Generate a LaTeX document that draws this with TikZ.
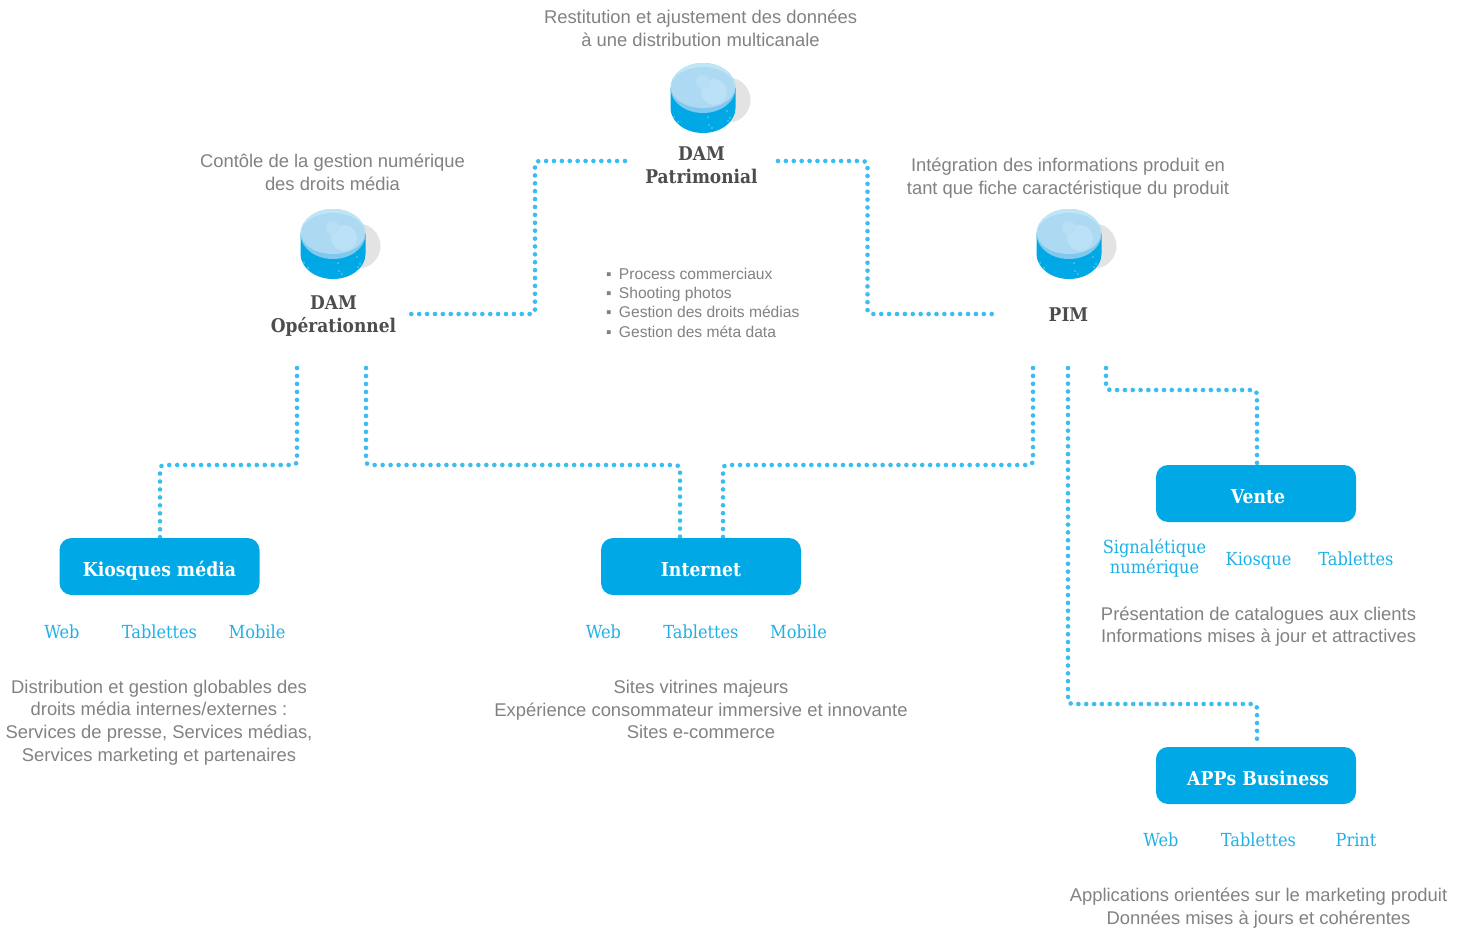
\documentclass[tikz,border=0pt]{standalone}
\usepackage{fontspec}
\usetikzlibrary{backgrounds}
\setmainfont{Liberation Sans}
\newfontfamily\slabfont{DejaVu Serif Condensed}
\definecolor{boxblue}{HTML}{00A9E6}
\definecolor{dotblue}{HTML}{3BBDEF}
\definecolor{labblue}{HTML}{20B0E8}
\definecolor{greytxt}{HTML}{828282}
\definecolor{darktxt}{HTML}{4D4D4D}
\definecolor{dbband}{HTML}{80C8EE}
\definecolor{dbrim}{HTML}{BFE6F6}
\definecolor{dbtop}{HTML}{AED9F2}
\definecolor{dbglow}{HTML}{BAE1F6}
\definecolor{dbglowb}{HTML}{B6DEF4}
\definecolor{dbshadow}{HTML}{E3E3E3}
\tikzset{
  every node/.style={inner sep=0pt,outer sep=0pt},
  dotline/.style={draw=dotblue,line width=4.6pt,line cap=round,dash pattern=on 0pt off #1,rounded corners=4pt},
  chanbox/.style={fill=boxblue,rounded corners=12pt,minimum width=200pt,minimum height=57pt,text height=20pt,text depth=0pt,text=white,font=\slabfont\bfseries\fontsize{19.2}{23}\selectfont},
  chanlab/.style={text=labblue,align=center,font=\slabfont\fontsize{18}{20}\selectfont},
  desc/.style={text=greytxt,align=center,font=\fontsize{18.4}{22.6}\selectfont},
  title/.style={text=darktxt,align=center,font=\slabfont\bfseries\fontsize{18.9}{23.5}\selectfont},
  pics/dbase/.style={code={
    \fill[dbshadow] (25,12) circle[radius=22.5];
    \fill[boxblue] (-32.5,0) -- (-32.5,20) arc[start angle=180,end angle=0,x radius=32.5,y radius=25] -- (32.5,0) -- cycle;
    \fill[dbband] (0,0) ellipse[x radius=32.5,y radius=25];
    \fill[dbrim] (-32.5,0) arc[start angle=180,end angle=360,x radius=32.5,y radius=25] -- cycle;
    \fill[dbtop] (0,-0.5) ellipse[x radius=32,y radius=20.5];
    \fill[dbglow] (11,4) circle[radius=13];
    \fill[dbglowb] (0,-6) circle[radius=7];
    \foreach \px/\py in {-25/34,-29/29,5/29,6/37,9/40,24/23,27/30,25/33}{
      \fill[white!45!boxblue] (\px,\py) circle[radius=0.8];}
  }}
}
\begin{document}
\begin{tikzpicture}[x=1pt,y=-1pt]
\useasboundingbox (0,0) rectangle (1467,928);

\pic at (703,88) {dbase};
\pic at (333,234) {dbase};
\pic at (1069,234) {dbase};

\node[desc] (ttop) at (700.5,28.5) {Restitution et ajustement des données\\à une distribution multicanale};
\node[desc] (tleft) at (332.5,172.5) {Contôle de la gestion numérique\\des droits média};
\node[desc] (tright) at (1068,178) {Intégration des informations produit en\\tant que fiche caractéristique du produit};

\node[title] (pat) at (701.5,165) {DAM\\Patrimonial};
\node[title] (ope) at (333.5,316) {DAM\\Opérationnel};
\node[title] (pim) at (1068.5,315) {PIM};

\node[text=greytxt,align=left,anchor=west,font=\fontsize{15.6}{19.3}\selectfont] (list) at (606,302.5) {%
\makebox[13pt][l]{▪}Process commerciaux\\
\makebox[13pt][l]{▪}Shooting photos\\
\makebox[13pt][l]{▪}Gestion des droits médias\\
\makebox[13pt][l]{▪}Gestion des méta data};

\node[chanbox] (kio) at (159.5,566.5) {Kiosques média};
\node[chanbox] (int) at (701,566.5) {Internet};
\node[chanbox] (ven) at (1256,493.5) {\hspace{4pt}Vente};
\node[chanbox] (app) at (1256,775.5) {\hspace{4pt}APPs Business};

\node[chanlab] (k1) at (62,632) {Web};
\node[chanlab] (k2) at (159.5,632) {Tablettes};
\node[chanlab] (k3) at (257,632) {Mobile};
\node[chanlab] (i1) at (603.5,632) {Web};
\node[chanlab] (i2) at (701,632) {Tablettes};
\node[chanlab] (i3) at (798.5,632) {Mobile};
\node[chanlab] (v1) at (1154.5,558) {Signalétique\\numérique};
\node[chanlab] (v2) at (1258.5,561) {Kiosque};
\node[chanlab] (v3) at (1356,559) {Tablettes};
\node[chanlab] (a1) at (1161,840) {Web};
\node[chanlab] (a2) at (1258.5,840) {Tablettes};
\node[chanlab] (a3) at (1356,840) {Print};

\node[desc] (dk) at (159,722.5) {Distribution et gestion globables des\\droits média internes/externes :\\Services de presse, Services médias,\\Services marketing et partenaires};
\node[desc] (di) at (701,709.5) {Sites vitrines majeurs\\Expérience consommateur immersive et innovante\\Sites e-commerce};
\node[desc] (dv) at (1258.5,626.5) {Présentation de catalogues aux clients\\Informations mises à jour et attractives};
\node[desc] (da) at (1258.5,908) {Applications orientées sur le marketing produit\\Données mises à jours et cohérentes};

\coordinate (patL) at (625,161);
\coordinate (patR) at (778,161);
\coordinate (opeR) at (411,314);
\coordinate (pimL) at (992,314);
\coordinate (opeA) at (297,368);
\coordinate (opeB) at (366,368);
\coordinate (pimA) at (1033,368);
\coordinate (pimB) at (1068,368);
\coordinate (pimC) at (1106,368);
\coordinate (kioT) at (160,537.5);
\coordinate (intA) at (680,537.5);
\coordinate (intB) at (723,537.5);
\coordinate (venT) at (1257,464.5);
\coordinate (appT) at (1257,746.5);

\begin{scope}[on background layer]
\fill[white] (0,0) rectangle (1467,928);
\draw[dotline=7.89pt] (patL) -- (535,161) -- (535,314) -- (opeR);
\draw[dotline=7.89pt] (patR) -- (867.5,161) -- (867.5,314) -- (pimL);
\draw[dotline=7.96pt] (opeA) -- (297,465) -- (160,465) -- (kioT);
\draw[dotline=7.98pt] (opeB) -- (366,465) -- (680,465) -- (intA);
\draw[dotline=7.92pt] (pimA) -- (1033,465) -- (723,465) -- (intB);
\draw[dotline=7.83pt] (pimB) -- (1068,704) -- (1257,704) -- (appT);
\draw[dotline=7.81pt] (pimC) -- (1106,390) -- (1257,390) -- (venT);
\end{scope}
\end{tikzpicture}
\end{document}
